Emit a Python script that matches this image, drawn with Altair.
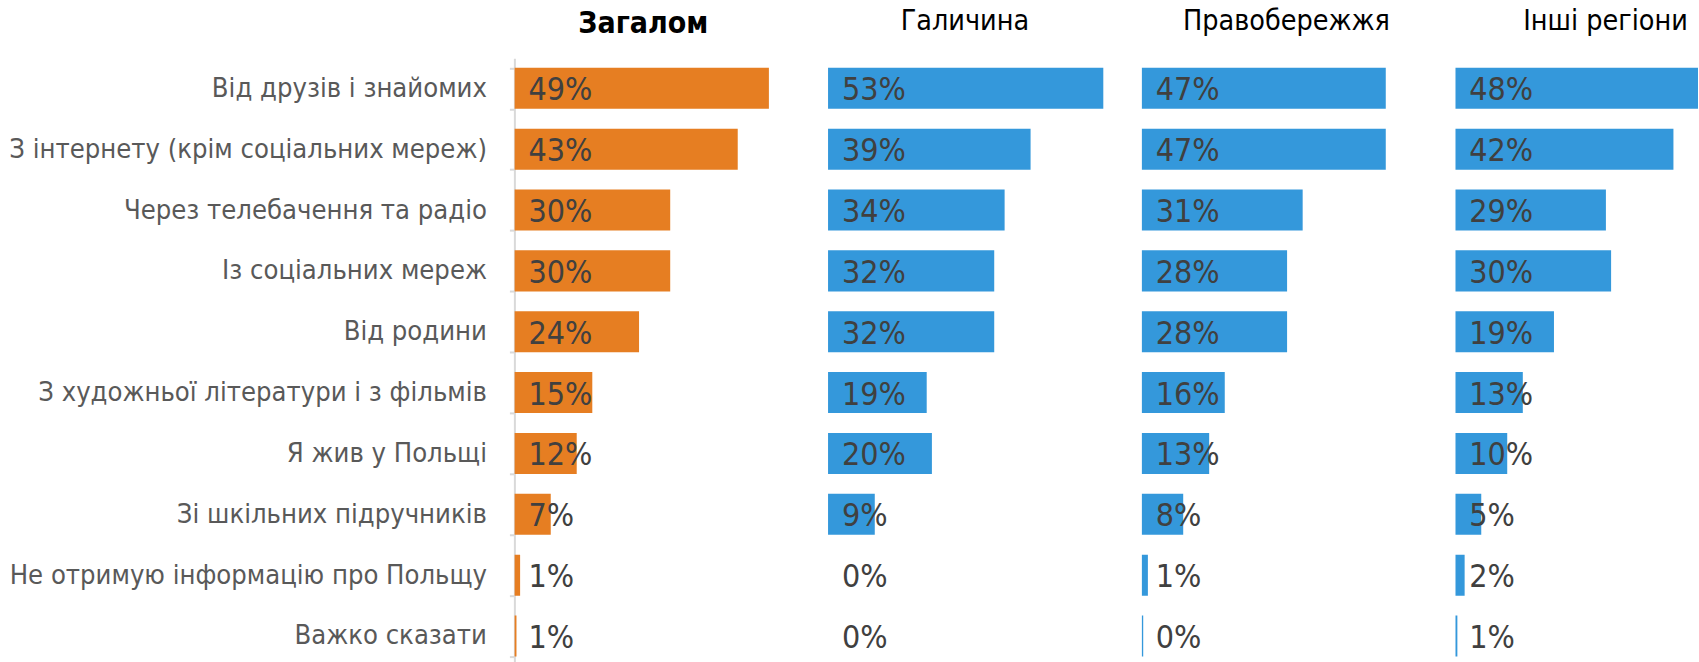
import altair as alt
import pandas as pd

categories = [
    "Від друзів і знайомих",
    "З інтернету (крім соціальних мереж)",
    "Через телебачення та радіо",
    "Із соціальних мереж",
    "Від родини",
    "З художньої літератури і з фільмів",
    "Я жив у Польщі",
    "Зі шкільних підручників",
    "Не отримую інформацію про Польщу",
    "Важко сказати",
]

regions = ["Загалом", "Галичина", "Правобережжя", "Інші регіони"]

# printed percentages
shown_total = [49, 43, 30, 30, 24, 15, 12, 7, 1, 1]
shown_galicia = [53, 39, 34, 32, 32, 19, 20, 9, 0, 0]
shown_right_bank = [47, 47, 31, 28, 28, 16, 13, 8, 1, 0]
shown_other = [48, 42, 29, 30, 19, 13, 10, 5, 2, 1]

# bar lengths (unrounded where visible)
bar_total = [49, 43, 30, 30, 24, 15, 12, 7, 1.1, 0.4]
bar_galicia = [53, 39, 34, 32, 32, 19, 20, 9, 0, 0]
bar_right_bank = [47, 47, 31, 28, 28, 16, 13, 8, 1.2, 0.3]
bar_other = [48, 42, 29, 30, 19, 13, 10, 5, 1.8, 0.4]

rows = []
for reg, shown, bars in zip(
    regions,
    [shown_total, shown_galicia, shown_right_bank, shown_other],
    [bar_total, bar_galicia, bar_right_bank, bar_other],
):
    for c, s, b in zip(categories, shown, bars):
        rows.append({"region": reg, "category": c, "value": b, "label": f"{s}%"})
df = pd.DataFrame(rows)

FONT = "DejaVu Sans Condensed"
ORANGE = "#E67E22"
BLUE = "#3498DB"

W = 312
LAST_W = 243
panel_specs = [
    # region, color, width, xmax, title dx, title dy, bold
    ("Загалом", ORANGE, W, 60, -27, 17, True),
    ("Галичина", BLUE, W, 60, -19, 0, False),
    ("Правобережжя", BLUE, W, 60, -11, 0, False),
    ("Інші регіони", BLUE, LAST_W, 60 * LAST_W / W, 29, 0, False),
]


def panel(i, reg, color, width, xmax, tdx, tdy, bold):
    base = alt.Chart(df).transform_filter(alt.datum.region == reg)
    if i == 0:
        yaxis = alt.Axis(
            title=None,
            labelFont=FONT,
            labelFontSize=27.2,
            labelColor="#595959",
            labelPadding=23,
            labelLimit=700,
            tickSize=5,
            tickWidth=2,
            tickColor="#D9D9D9",
            domainColor="#D9D9D9",
            domainWidth=2,
            tickBand="extent",
        )
    else:
        yaxis = None
    yscale = alt.Scale(paddingInner=0.326, paddingOuter=0.12, align=0.65)
    y = alt.Y("category:N", sort=categories, scale=yscale, axis=yaxis)
    bars = base.mark_bar(color=color, clip=True).encode(
        x=alt.X("value:Q", scale=alt.Scale(domain=[0, xmax], nice=False), axis=None),
        y=y,
    )
    text = base.mark_text(
        align="left", baseline="middle", dx=14, dy=2, font=FONT, fontSize=32, color="#404040"
    ).encode(x=alt.datum(0), y=y, text="label:N")
    return alt.layer(bars, text).properties(
        width=width,
        height=604,
        title=alt.TitleParams(
            text=reg,
            font=FONT,
            fontSize=30 if bold else 28.5,
            fontWeight="bold" if bold else "normal",
            color="#000000",
            anchor="middle",
            frame="group",
            dx=tdx,
            dy=tdy,
            offset=22.5,
        ),
    )


panels = [panel(i, *spec) for i, spec in enumerate(panel_specs)]

chart = (
    alt.hconcat(*panels, spacing=0)
    .resolve_scale(x="independent")
    .properties(padding={"left": 8, "top": 6, "right": 0, "bottom": 0}, background="white")
    .configure_view(stroke="transparent")
)

chart.save("out.html", embed_options={"renderer": "svg", "actions": False})
